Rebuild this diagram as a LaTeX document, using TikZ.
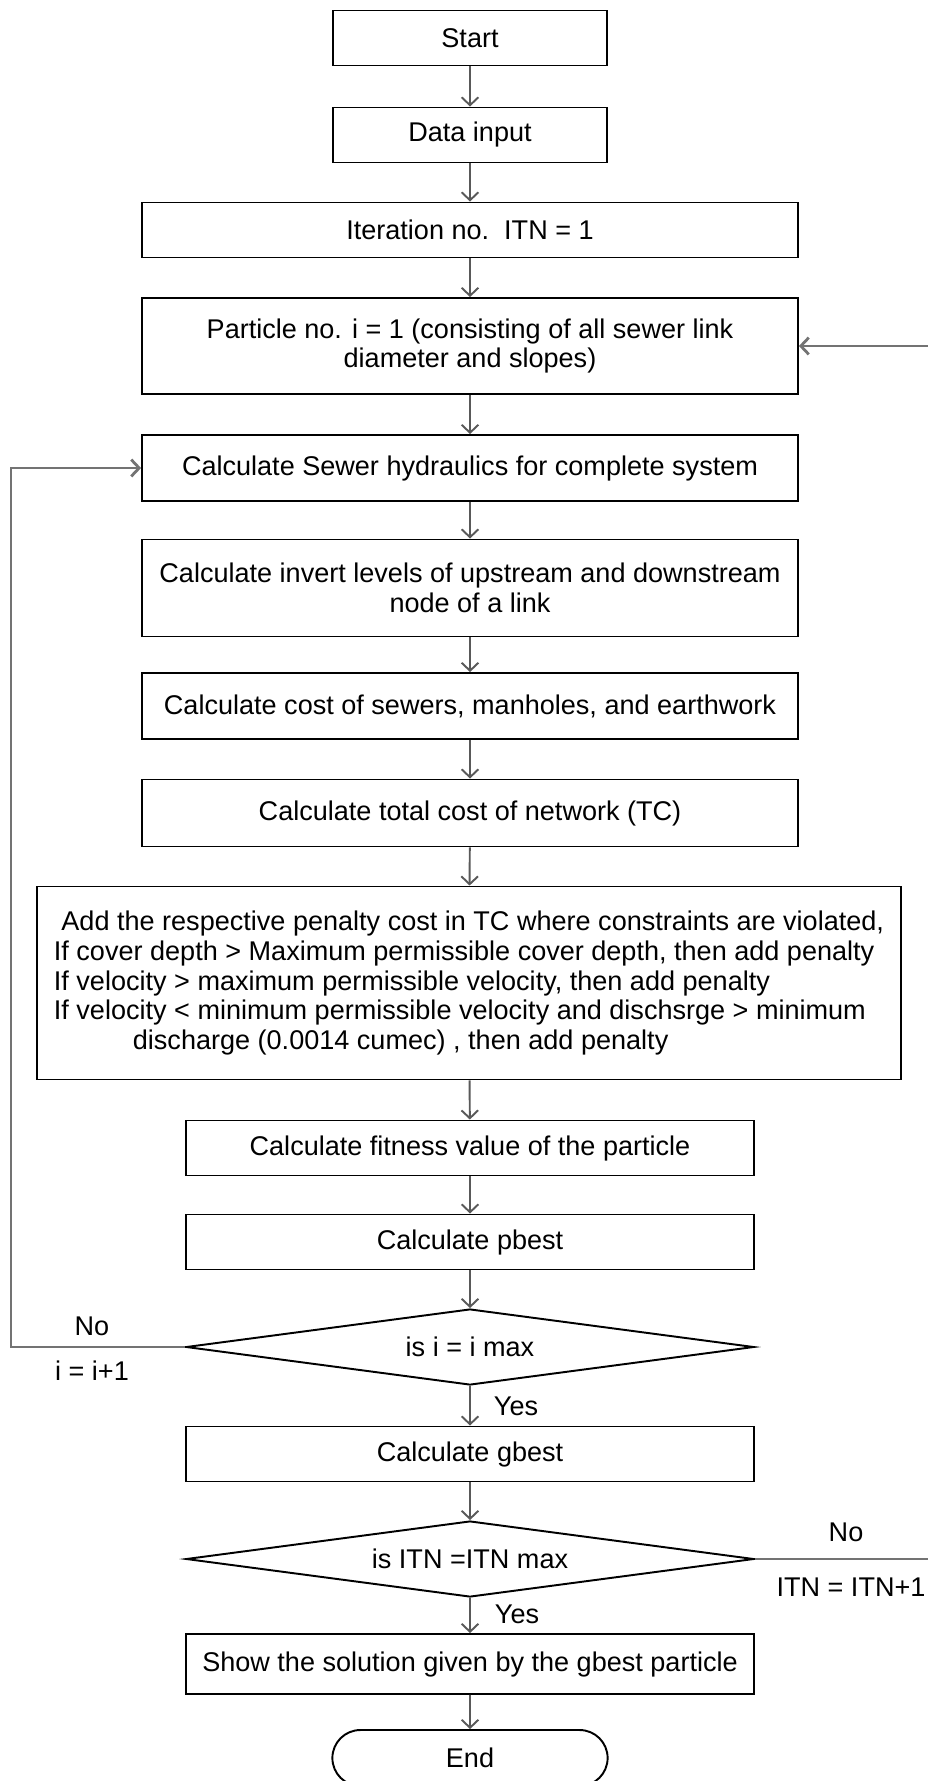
\documentclass[tikz,border=0pt]{standalone}
\usepackage{fontspec}
\setmainfont{Liberation Sans}
\usetikzlibrary{shapes.geometric,shapes.misc,arrows.meta}

\newcommand\flowfont{\fontsize{15.4}{17}\selectfont}

\begin{document}
\begin{tikzpicture}[x=0.02cm,y=-0.02cm,
		box/.style={draw,line width=1.1pt,rectangle,minimum width=#1,minimum height=1.1cm,align=center,inner sep=2pt,font=\flowfont},
		decision/.style={draw,line width=1.1pt,diamond,aspect=7.5,minimum width=11.36cm,minimum height=1.52cm,inner sep=1pt,font=\flowfont},
		terminal/.style={draw,line width=1.1pt,rounded rectangle,minimum width=5.74cm,minimum height=1.12cm,font=\flowfont},
		arr/.style={draw=black!65,line width=1.1pt,-{Straight Barb[length=4.5pt,width=9.5pt]}},
		loop/.style={draw=black!55,line width=1.6pt,-{Straight Barb[length=4.5pt,width=9.5pt]}},
		lbl/.style={font=\flowfont}]
	\useasboundingbox (0,0) rectangle (927,1781);

	% main column
	\node[box=5.48cm] (start) at (470,38) {Start};
	\node[box=5.48cm] (data) at (470,135) {Data input};
	\node[box=13.12cm] (iter) at (470,230) {Iteration no.\ \ ITN = 1};
	\node[box=13.12cm,minimum height=1.92cm] (part) at (470,346) {Particle no. i = 1 (consisting of all sewer link\\diameter and slopes)};
	\node[box=13.12cm,minimum height=1.32cm] (hyd) at (470,468) {Calculate Sewer hydraulics for complete system};
	\node[box=13.12cm,minimum height=1.94cm] (inv) at (470,588) {Calculate invert levels of upstream and downstream\\node of a link};
	\node[box=13.12cm,minimum height=1.32cm] (cost) at (470,706) {Calculate cost of sewers, manholes, and earthwork};
	\node[box=13.12cm,minimum height=1.34cm] (tot) at (470,813) {Calculate total cost of network (TC)};
	\node[box=17.28cm,minimum height=3.86cm,align=left] (pen) at (469,983) {\ Add the respective penalty cost in TC where constraints are violated,\\If cover depth > Maximum permissible cover depth, then add penalty\\If velocity > maximum permissible velocity, then add penalty\\If velocity < minimum permissible velocity and dischsrge > minimum\\\hspace{1.58cm}discharge (0.0014 cumec) , then add penalty};
	\node[box=11.36cm] (fit) at (470,1148) {Calculate fitness value of the particle};
	\node[box=11.36cm] (pb) at (470,1242) {Calculate pbest};
	\node[decision] (dec1) at (470,1347) {is i = i max};
	\node[box=11.36cm] (gb) at (470,1454) {Calculate gbest};
	\node[decision] (dec2) at (470,1559) {is ITN =ITN max};
	\node[box=11.36cm,minimum height=1.2cm] (show) at (470,1664) {Show the solution given by the gbest particle};
	\node[terminal] (stop) at (470,1758) {End};

	\foreach \a/\b in {start/data,data/iter,iter/part,part/hyd,hyd/inv,inv/cost,cost/tot,tot/pen,pen/fit,fit/pb,pb/dec1,dec1/gb,gb/dec2,dec2/show,show/stop}
		\draw[arr] (\a) -- (\b);

	% labels
	\node[lbl] (yes1) at (516,1406) {Yes};
	\node[lbl] (yes2) at (517,1614) {Yes};
	\node[lbl] (no1) at (92,1326) {No};
	\node[lbl] (inc1) at (92,1371) {i = i+1};
	\node[lbl] (no2) at (846,1532) {No};
	\node[lbl] (inc2) at (851,1587) {ITN = ITN+1};

	% loops back
	\coordinate (lft) at (11,1347);
	\coordinate (rgt) at (945,1559);
	\draw[loop] (dec1.west) -- (lft) |- (hyd.west);
	\draw[loop] (dec2.east) -- (rgt) |- (part.east);
\end{tikzpicture}
\end{document}
